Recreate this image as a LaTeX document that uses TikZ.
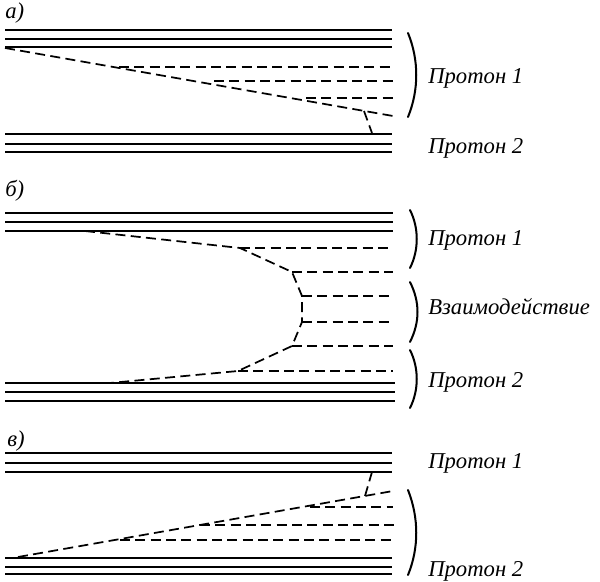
\documentclass[tikz,border=0pt]{standalone}
\usepackage{fontspec}
\setmainfont{Liberation Serif}
\begin{document}
\begin{tikzpicture}[x=0.75pt,y=-0.75pt,
  beam/.style={line width=1.5pt},
  track/.style={line width=1.3pt,dash pattern=on 7.5pt off 4pt},
  brace/.style={line width=1.5pt,line cap=round},
  lbl/.style={font=\itshape\fontsize{17}{19}\selectfont,anchor=base west,inner sep=0pt},
  plbl/.style={font=\itshape\fontsize{17}{19}\selectfont,anchor=base west,inner sep=0pt}]
\useasboundingbox (0,0) rectangle (600,582);
% ---------- panel a ----------
\node[plbl] (la) at (5,18) {а)};
\foreach \y in {30,39,47} \draw[beam] (5,\y) -- (392,\y);
\foreach \y in {134,144,152} \draw[beam] (5,\y) -- (392,\y);
\coordinate (a0) at (5,48);
\coordinate (a1) at (393,116);
\draw[track] (a0) -- (a1);
\draw[track] (119,67) -- (393,67);
\draw[track] (214,81) -- (395,81);
\draw[track] (306,98) -- (396,98);
\draw[track] (364,111) -- (372,133);
\draw[brace] (408,33) .. controls (419,60) and (419,90) .. (408,117);
\node[lbl] (pa1) at (428,83) {Протон 1};
\node[lbl] (pa2) at (428,153) {Протон 2};
% ---------- panel b ----------
\node[plbl] (lb) at (5,196) {б)};
\foreach \y in {213,222,231} \draw[beam] (5,\y) -- (393,\y);
\foreach \y in {383,392,401} \draw[beam] (5,\y) -- (395,\y);
\coordinate (b0) at (85,231);
\coordinate (b1) at (240,248);
\coordinate (b2) at (292,272);
\coordinate (b3) at (302,296);
\coordinate (b4) at (302,322);
\coordinate (b5) at (292,346);
\coordinate (b6) at (238,371);
\coordinate (b7) at (110,383);
\draw[track] (b0) -- (b1) -- (b2) -- (b3) -- (b4) -- (b5) -- (b6) -- (b7);
\foreach \p in {b1,b2,b3,b4,b5,b6} \draw[track] (\p) -- (393,0 |- \p);
\draw[brace] (410,210) .. controls (419,228) and (419,250) .. (410,268);
\draw[brace] (410,282) .. controls (420,302) and (420,322) .. (410,342);
\draw[brace] (410,350) .. controls (419,368) and (419,390) .. (410,408);
\node[lbl] (pb1) at (428,245) {Протон 1};
\node[lbl] (pb0) at (428,314) {Взаимодействие};
\node[lbl] (pb2) at (428,387) {Протон 2};
% ---------- panel c ----------
\node[plbl] (lc) at (7,446) {в)};
\foreach \y in {453,463,472} \draw[beam] (5,\y) -- (392,\y);
\foreach \y in {558,567,574} \draw[beam] (5,\y) -- (392,\y);
\coordinate (c0) at (18,557);
\coordinate (c1) at (393,491);
\draw[track] (c0) -- (c1);
\draw[track] (310,507) -- (393,507);
\draw[track] (200,525) -- (394,525);
\draw[track] (120,540) -- (393,540);
\draw[track] (365,496) -- (372,472);
\draw[brace] (408,490) .. controls (419,518) and (419,548) .. (408,575);
\node[lbl] (pc1) at (428,468) {Протон 1};
\node[lbl] (pc2) at (428,576) {Протон 2};
\end{tikzpicture}
\end{document}
